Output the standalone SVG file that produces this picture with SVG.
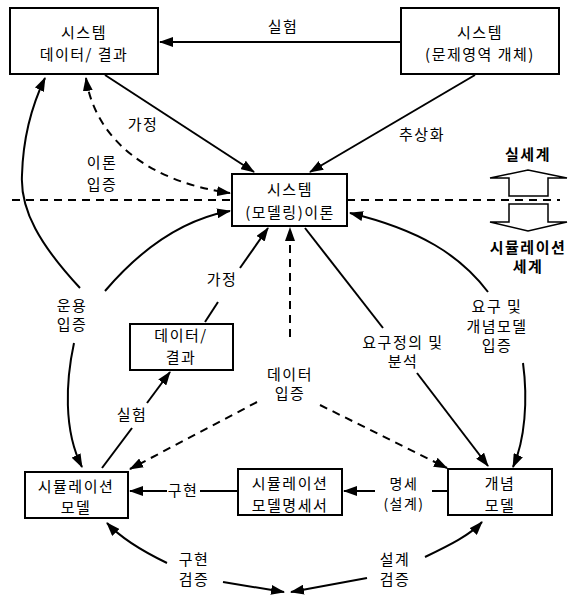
<svg xmlns="http://www.w3.org/2000/svg" width="586" height="597" viewBox="0 0 586 597">
<style>
.box{fill:#fff;stroke:#000;stroke-width:2}
.ln{fill:none;stroke:#000;stroke-width:2}
.ds{fill:none;stroke:#000;stroke-width:2;stroke-dasharray:8,6}
.big{fill:#fff;stroke:#000;stroke-width:1.5}
text{font-family:"Noto Sans CJK KR","Noto Sans",sans-serif;font-size:15px;text-anchor:middle;letter-spacing:1.5px;fill:#000}
.b{font-weight:bold}
.s{font-size:14px}
</style>
<defs>
<marker id="ah" viewBox="0 0 14 10" refX="13" refY="5" markerWidth="14" markerHeight="10" markerUnits="userSpaceOnUse" orient="auto-start-reverse">
<path d="M0,0 L14,5 L0,10 z" fill="#000"/>
</marker>
</defs>
<rect width="586" height="597" fill="#fff"/>
<g id="connectors">
<path class="ln" d="M401,42 L160,42" marker-end="url(#ah)"/>
<path class="ln" d="M105,75 L254,172" marker-end="url(#ah)"/>
<path class="ln" d="M475,75 L310,172" marker-end="url(#ah)"/>
<path class="ds" d="M86,78 C95,140 150,182 230,193" marker-start="url(#ah)" marker-end="url(#ah)"/>
<path class="ds" d="M12,200 L232,200"/>
<path class="ds" d="M347,200 L560,200"/>
<path class="ln" d="M80,288 C40,245 20,210 22,175 C23,140 32,105 45,78" marker-end="url(#ah)"/>
<path class="ln" d="M105,291 C140,250 180,220 230,211" marker-end="url(#ah)"/>
<path class="ln" d="M74,343 C66,380 63,430 82,467" marker-end="url(#ah)"/>
<path class="ln" d="M205,322 L218,302"/>
<path class="ln" d="M240,268 L268,228" marker-end="url(#ah)"/>
<path class="ds" d="M290,337 L290,228" marker-end="url(#ah)"/>
<path class="ds" d="M257,402 L130,469" marker-end="url(#ah)"/>
<path class="ds" d="M320,405 L447,468" marker-end="url(#ah)"/>
<path class="ln" d="M102,468 L132,428"/>
<path class="ln" d="M147,403 L170,372" marker-end="url(#ah)"/>
<path class="ln" d="M305,228 L383,328"/>
<path class="ln" d="M417,373 L488,466" marker-end="url(#ah)"/>
<path class="ln" d="M488,292 C460,255 420,230 350,213" marker-end="url(#ah)"/>
<path class="ln" d="M523,363 C528,400 525,440 513,467" marker-end="url(#ah)"/>
<path class="ln" d="M238,491 L200,491"/>
<path class="ln" d="M167,491 L130,491" marker-end="url(#ah)"/>
<path class="ln" d="M448,491 L432,491"/>
<path class="ln" d="M375,491 L344,491" marker-end="url(#ah)"/>
<path class="ln" d="M167,563 C140,550 120,537 107,523" marker-end="url(#ah)"/>
<path class="ln" d="M223,582 L284,592" marker-end="url(#ah)"/>
<path class="ln" d="M425,557 C450,545 470,535 482,522" marker-end="url(#ah)"/>
<path class="ln" d="M367,578 L291,592" marker-end="url(#ah)"/>
<path class="big" d="M509,196 L509,178 L490,178 L528,170 L567,178 L548,178 L548,196 Z"/>
<path class="big" d="M509,204 L509,222 L490,222 L528,231 L567,222 L548,222 L548,204 Z"/>
<text x="283" y="32">실험</text>
<text x="143" y="130">가정</text>
<text x="422" y="140">추상화</text>
<text x="102" y="168">이론</text>
<text x="102" y="190">입증</text>
<text class="b" x="528" y="160">실세계</text>
<text class="b" x="528" y="253">시뮬레이션</text>
<text class="b" x="528" y="272">세계</text>
<text x="72" y="311">운용</text>
<text x="72" y="330">입증</text>
<text x="222" y="285">가정</text>
<text x="290" y="380">데이터</text>
<text x="290" y="399">입증</text>
<text x="403" y="348">요구정의 및</text>
<text x="403" y="367">분석</text>
<text x="497" y="312">요구 및</text>
<text x="497" y="332">개념모델</text>
<text x="497" y="351">입증</text>
<text x="132" y="420">실험</text>
<text x="183" y="496">구현</text>
<text class="s" x="404" y="489">명세</text>
<text class="s" x="404" y="509">(설계)</text>
<text x="194" y="565">구현</text>
<text x="194" y="585">검증</text>
<text x="395" y="565">설계</text>
<text x="395" y="585">검증</text>
</g>
<g id="n1">
<rect class="box" x="10" y="8" width="148" height="66"/>
<text x="84" y="38">시스템</text>
<text x="84" y="60">데이터/ 결과</text>
</g>
<g id="n2">
<rect class="box" x="401" y="8" width="158" height="66"/>
<text x="480" y="38">시스템</text>
<text x="480" y="60">(문제영역 개체)</text>
</g>
<g id="n3">
<rect class="box" x="232" y="174" width="115" height="52"/>
<text x="290" y="195">시스템</text>
<text x="290" y="218">(모델링)이론</text>
</g>
<g id="n4">
<rect class="box" x="130" y="324" width="103" height="46"/>
<text x="181" y="341">데이터/</text>
<text x="181" y="363">결과</text>
</g>
<g id="n5">
<rect class="box" x="25" y="472" width="103" height="46"/>
<text x="76" y="492">시뮬레이션</text>
<text x="76" y="513">모델</text>
</g>
<g id="n6">
<rect class="box" x="238" y="469" width="104" height="46"/>
<text x="290" y="489">시뮬레이션</text>
<text x="290" y="511">모델명세서</text>
</g>
<g id="n7">
<rect class="box" x="448" y="469" width="104" height="46"/>
<text x="500" y="489">개념</text>
<text x="500" y="511">모델</text>
</g>
</svg>
